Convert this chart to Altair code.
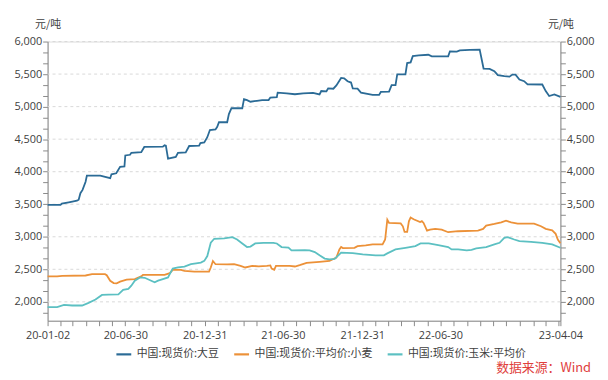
import altair as alt
import pandas as pd

# ---- data ----
soy_dates = ["2020-01-02","2020-02-01","2020-02-04","2020-02-20","2020-03-10","2020-03-14","2020-03-18","2020-03-23","2020-03-30","2020-04-02",
 "2020-05-03","2020-05-26","2020-05-29","2020-06-09","2020-06-18","2020-06-28","2020-06-30","2020-07-11","2020-07-14","2020-08-06",
 "2020-08-13","2020-09-25","2020-09-29","2020-10-02","2020-10-07","2020-10-25","2020-10-30","2020-11-17","2020-11-25","2020-12-18",
 "2020-12-21","2020-12-30","2021-01-06","2021-01-12","2021-01-25","2021-01-29","2021-02-02","2021-02-21","2021-02-25","2021-03-03",
 "2021-03-28","2021-04-01","2021-04-08","2021-04-16","2021-05-01","2021-05-13","2021-05-28","2021-06-01","2021-06-16","2021-06-18",
 "2021-07-09","2021-07-28","2021-08-16","2021-09-08","2021-09-23","2021-09-27","2021-10-09","2021-10-13","2021-10-25","2021-11-01",
 "2021-11-12","2021-11-19","2021-11-27","2021-12-05","2021-12-09","2021-12-20","2021-12-28","2022-01-24","2022-02-08","2022-02-12",
 "2022-03-03","2022-03-09","2022-03-18","2022-03-22","2022-04-10","2022-04-14","2022-04-22","2022-04-27","2022-05-11","2022-06-02",
 "2022-06-10","2022-07-18","2022-07-22","2022-08-07","2022-08-14","2022-09-06","2022-09-29","2022-10-08","2022-10-22","2022-11-02",
 "2022-11-10","2022-11-25","2022-12-07","2022-12-14","2022-12-21","2022-12-30","2023-01-10","2023-01-18","2023-02-21","2023-03-01",
 "2023-03-09","2023-03-21","2023-04-04"]
soy_values = [3490,3490,3510,3530,3555,3570,3670,3720,3845,3940,
 3940,3900,3960,3975,4075,4080,4250,4260,4290,4300,
 4380,4385,4405,4400,4200,4228,4290,4295,4395,4400,
 4440,4450,4530,4640,4650,4690,4760,4760,4885,4975,
 4975,5115,5100,5075,5090,5100,5100,5140,5145,5215,
 5205,5190,5205,5210,5188,5240,5235,5280,5275,5325,
 5440,5435,5390,5370,5280,5275,5215,5180,5180,5225,
 5230,5330,5330,5495,5495,5670,5680,5775,5787,5797,
 5772,5772,5848,5845,5863,5873,5875,5585,5580,5545,
 5483,5468,5460,5493,5490,5417,5391,5341,5340,5239,
 5163,5188,5150]

wheat_dates = ["2020-01-02","2020-01-24","2020-02-05","2020-03-30","2020-04-14","2020-05-14","2020-05-18","2020-05-26","2020-06-03","2020-06-10",
 "2020-06-18","2020-07-03","2020-07-22","2020-08-06","2020-08-10","2020-09-29","2020-10-11","2020-10-18","2020-11-06","2020-11-14",
 "2020-12-07","2021-01-10","2021-01-14","2021-01-19","2021-01-25","2021-02-21","2021-03-09","2021-03-24","2021-04-04","2021-04-20",
 "2021-05-05","2021-05-24","2021-06-01","2021-06-04","2021-06-10","2021-06-14","2021-07-16","2021-07-28","2021-08-08","2021-08-24",
 "2021-09-23","2021-10-16","2021-10-24","2021-11-01","2021-11-08","2021-11-12","2021-11-16","2021-12-13","2021-12-20","2022-01-08",
 "2022-01-24","2022-02-16","2022-02-22","2022-02-27","2022-03-03","2022-03-30","2022-04-04","2022-04-08","2022-04-14","2022-04-18",
 "2022-04-22","2022-04-29","2022-05-14","2022-05-18","2022-05-22","2022-05-30","2022-06-06","2022-06-18","2022-07-03","2022-07-18",
 "2022-08-10","2022-09-25","2022-10-07","2022-10-14","2022-11-02","2022-11-18","2022-11-29","2022-12-11","2022-12-26","2023-02-02",
 "2023-02-18","2023-03-01","2023-03-16","2023-03-24","2023-03-29","2023-04-04"]
wheat_values = [2390,2390,2400,2405,2426,2426,2410,2324,2289,2285,
 2310,2340,2350,2391,2416,2416,2441,2492,2492,2476,
 2466,2466,2528,2628,2578,2575,2578,2553,2528,2553,
 2545,2553,2560,2512,2492,2553,2553,2543,2565,2600,
 2614,2628,2654,2680,2806,2842,2826,2831,2856,2867,
 2882,2882,2958,3262,3212,3205,3161,3075,3075,3237,
 3297,3270,3227,3240,3212,3095,3110,3121,3110,3070,
 3085,3095,3121,3171,3197,3222,3247,3222,3202,3202,
 3161,3121,3100,3045,2958,2900]

corn_dates = ["2020-01-02","2020-01-24","2020-02-09","2020-02-28","2020-03-22","2020-04-06","2020-04-22","2020-05-07","2020-05-22","2020-06-14",
 "2020-06-25","2020-07-07","2020-07-14","2020-07-22","2020-08-03","2020-08-14","2020-08-29","2020-09-06","2020-09-14","2020-09-25",
 "2020-10-07","2020-10-11","2020-10-18","2020-10-30","2020-11-14","2020-11-29","2020-12-11","2020-12-22","2020-12-30","2021-01-06",
 "2021-01-14","2021-01-22","2021-02-14","2021-03-05","2021-03-16","2021-03-28","2021-04-08","2021-04-16","2021-04-27","2021-05-16",
 "2021-06-08","2021-06-16","2021-06-27","2021-07-13","2021-07-20","2021-08-20","2021-08-31","2021-09-12","2021-09-23","2021-10-05",
 "2021-10-16","2021-10-28","2021-11-08","2021-11-12","2021-12-09","2022-01-01","2022-01-31","2022-02-19","2022-02-27","2022-03-18",
 "2022-04-10","2022-05-03","2022-05-15","2022-06-03","2022-06-25","2022-07-18","2022-07-26","2022-08-10","2022-08-30","2022-09-10",
 "2022-09-21","2022-10-14","2022-11-02","2022-11-14","2022-11-25","2022-12-03","2022-12-18","2022-12-30","2023-01-26","2023-02-21",
 "2023-03-16","2023-04-04"]
corn_values = [1919,1919,1954,1944,1944,1985,2035,2106,2110,2116,
 2183,2198,2248,2324,2375,2370,2324,2300,2325,2350,
 2375,2426,2512,2528,2543,2578,2593,2604,2629,2704,
 2908,2969,2975,2993,2958,2897,2842,2850,2897,2907,
 2907,2897,2842,2835,2791,2796,2792,2765,2715,2665,
 2654,2660,2730,2755,2750,2730,2715,2715,2745,2806,
 2831,2857,2897,2897,2872,2842,2806,2806,2791,2800,
 2821,2842,2882,2907,2984,2994,2958,2933,2923,2907,
 2882,2831]

series_names = ["中国:现货价:大豆", "中国:现货价:平均价:小麦", "中国:现货价:玉米:平均价"]
series_colors = ["#2b6b96", "#ec9138", "#5cc0c2"]
x_labels = ["20-01-02", "20-06-30", "20-12-31", "21-06-30", "21-12-31", "22-06-30", "23-04-04"]
grid_values = [2000, 2500, 3000, 3500, 4000, 4500, 5000, 5500, 6000]
unit = "元/吨"
source_text = ["数据来源：Wind"]

df = pd.concat([
    pd.DataFrame({"date": soy_dates, "value": soy_values, "series": series_names[0]}),
    pd.DataFrame({"date": wheat_dates, "value": wheat_values, "series": series_names[1]}),
    pd.DataFrame({"date": corn_dates, "value": corn_values, "series": series_names[2]}),
])

W, H = 518, 282
ymin, ymax = 1710, 6000
FONT = "Noto Sans CJK SC"
NUMFONT = "Open Sans"

# tick positions (axis decoration)
y_ticks = [6000 - i * 500 / 3 for i in range(0, 26)]
y_ticks = [v for v in y_ticks if v >= ymin]
month_ends = pd.date_range("2020-01-31", "2023-03-31", freq="ME")
x_ticks = [alt.DateTime(year=2020, month=1, date=2, utc=True)] + \
    [alt.DateTime(year=int(d.year), month=int(d.month), date=int(d.day), utc=True) for d in month_ends] + \
    [alt.DateTime(year=2023, month=4, date=4, utc=True)]

label_list = "[" + ",".join("'%s'" % s for s in x_labels) + "]"
ylabel_expr = "abs(datum.value/500 - round(datum.value/500)) < 0.01 ? format(datum.value, ',') : ''"

x_scale = alt.Scale(type="utc", domain=[alt.DateTime(year=2020, month=1, date=2, utc=True),
                                        alt.DateTime(year=2023, month=4, date=4, utc=True)], nice=False)
y_scale = alt.Scale(domain=[ymin, ymax], nice=False, zero=False)

axis_common = dict(
    domainColor="#8a8a8a", tickColor="#8a8a8a", tickSize=5,
    labelColor="#404040", labelFont=NUMFONT, labelFontSize=11,
    grid=False, titleFont=FONT, titleFontSize=11, titleColor="#404040",
    titleFontWeight="normal",
)

x_axis = alt.Axis(values=x_ticks, labelExpr="indexof(%s, utcFormat(datum.value, '%%y-%%m-%%d')) >= 0 ? utcFormat(datum.value, '%%y-%%m-%%d') : ''" % label_list,
                  title=None, labelFlush=False, labelOverlap=False, labelPadding=4, **{k: v for k, v in axis_common.items() if not k.startswith("title")})

y_left = alt.Axis(values=y_ticks, labelExpr=ylabel_expr, orient="left", title=unit,
                  titleAngle=0, titleX=0, titleY=-17, titleAlign="center", titleBaseline="middle",
                  labelPadding=1, **axis_common)
y_right = alt.Axis(values=y_ticks, labelExpr=ylabel_expr, orient="right", title=unit,
                   titleAngle=0, titleX=0, titleY=-17, titleAlign="center", titleBaseline="middle",
                   labelPadding=1, **axis_common)

grid = alt.Chart(pd.DataFrame({"g": grid_values})).mark_rule(
    color="#d9d9d9", strokeDash=[3, 3], strokeWidth=1
).encode(y=alt.Y("g:Q", scale=y_scale, axis=y_left))

lines = alt.Chart(df).mark_line(strokeWidth=1.8, interpolate="linear").encode(
    x=alt.X("date:T", scale=x_scale, axis=x_axis),
    y=alt.Y("value:Q", scale=y_scale, axis=None),
    color=alt.Color("series:N", scale=alt.Scale(domain=series_names, range=series_colors),
                    legend=alt.Legend(title=None, orient="none", direction="horizontal",
                                      legendX=68, legendY=307, symbolType="stroke",
                                      symbolSize=225, symbolStrokeWidth=2.2,
                                      labelFont=FONT, labelFontSize=11, labelColor="#404040",
                                      columnPadding=10, symbolOffset=0)),
    order=alt.Order("series:N"),
)

right = alt.Chart(pd.DataFrame({"g": grid_values})).mark_rule(opacity=0).encode(
    y=alt.Y("g:Q", scale=y_scale, axis=y_right)
)

src = alt.Chart(pd.DataFrame({"t": source_text})).mark_text(
    font=FONT, fontSize=13, color="#e0403c", align="right", baseline="middle"
).encode(text="t:N", x=alt.value(549), y=alt.value(330))

chart = alt.layer(grid, lines, right, src).resolve_axis(y="independent").resolve_scale(y="shared").properties(
    width=W, height=H, autosize=alt.AutoSizeParams(type="none"),
    padding={"left": 40, "top": 32, "right": 40, "bottom": 58},
).configure_view(stroke=None).configure(background="white")

chart.save("out.html", embed_options={"renderer": "svg", "actions": False})
